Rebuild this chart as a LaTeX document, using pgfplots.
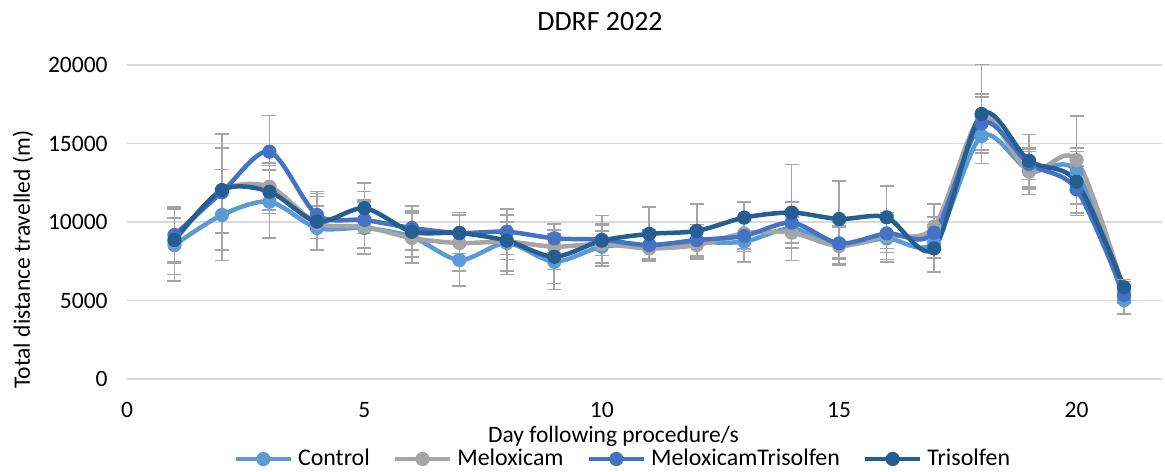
\documentclass[border=0pt]{standalone}
\usepackage{fontspec}
\setmainfont{Carlito}
\usepackage{pgfplots}
\usepackage{pgfplotstable}
\pgfplotsset{compat=1.18}

\definecolor{cControl}{HTML}{5B9BD5}
\definecolor{cMelox}{HTML}{A5A5A5}
\definecolor{cMT}{HTML}{4472C4}
\definecolor{cTris}{HTML}{255E91}
\definecolor{gridgray}{HTML}{D9D9D9}
\definecolor{errgray}{HTML}{A5A5A5}

% Mean total distance (m) and error per treatment group, by day
\pgfplotstableread{
day  C     Cerr  M     Merr  MT    MTerr T     Terr
1    8530  2300  8800  2150  9170  1800  8850  1400
2    10450 2900  12000 2700  11900 3700  12040 2700
3    11290 2300  12250 1500  14480 2300  11930 1400
4    9620  1400  9930  1700  10450 1500  10020 1800
5    9620  1650  9700  1700  10130 1800  10880 1600
6    9060  1650  8980  1600  9620  1400  9380  1600
7    7580  1640  8660  1800  9300  1300  9300  1300
8    8660  1800  8750  2100  9380  1450  8810  1200
9    7470  1760  8430  1450  8960  900   7790  1700
10   8430  1000  8600  1200  8870  1000  8810  1600
11   8530  1000  8320  800   8530  900   9240  1700
12   8700  900   8530  900   8850  1000  9430  1700
13   8750  1280  9280  1000  9110  1000  10280 1000
14   9580  1200  9320  1000  9960  1300  10600 3060
15   8530  1200  8470  1200  8640  1000  10190 2440
16   8960  1500  9110  1500  9270  1200  10300 2000
17   8700  1000  9700  1450  9320  1000  8320  1500
18   15480 1100  16710 1450  16280 1700  16880 3150
19   13300 1200  13210 1450  13700 1000  13900 1680
20   13200 1300  13950 2820  12080 1500  12570 2150
21   5030  900   5600  600   5350  500   5840  500
}\ddrf

\pgfplotsset{
  series/.style={
    color=#1, line width=2.25bp, smooth, tension=0.5,
    mark=*, mark size=3.3bp, mark options={solid, fill=#1, draw=#1, line width=0.5bp},
    error bars/.cd, y dir=both, y explicit,
    error bar style={errgray, line width=0.8bp, smooth=false},
    error mark options={errgray, line width=0.8bp, mark size=3.5bp, rotate=90},
  },
}

\begin{document}
\begin{tikzpicture}
\useasboundingbox (-63.5bp,-46.5bp) rectangle (519bp,189.5bp);
\begin{axis}[
  at={(0,0)}, anchor=south west,
  scale only axis, width=517.5bp, height=157bp,
  xmin=0, xmax=21.8, ymin=0, ymax=20000,
  xtick={0,5,10,15,20}, ytick={0,5000,10000,15000,20000},
  scaled ticks=false,
  axis line style={draw=none},
  major tick length=0pt,
  ymajorgrids, grid style={gridgray, line width=0.9bp},
  clip=false,
  /pgf/number format/assume math mode=true,
  /pgf/number format/fixed,
  /pgf/number format/1000 sep={},
  tick label style={font=\fontsize{11.8}{13}\selectfont, text=black},
  xticklabel style={anchor=center, inner sep=0pt, yshift=-15.5bp},
  yticklabel style={anchor=east, inner sep=0pt, xshift=-9.5bp},
  xlabel={Day following procedure/s},
  xlabel style={font=\fontsize{11.8}{13}\selectfont, at={(axis description cs:0.47,0)}, anchor=center, yshift=-28.5bp},
  ylabel={Total distance travelled (m)},
  ylabel style={font=\fontsize{11.8}{13}\selectfont, at={(axis description cs:0,0.38)}, anchor=center, yshift=52bp},
  legend columns=4,
  legend style={draw=none, fill=none, at={(axis description cs:0.4805,0)}, anchor=center, yshift=-40bp,
    font=\fontsize{12}{13}\selectfont, nodes={inner xsep=2.5bp, inner ysep=0pt},
    /tikz/every even column/.append style={column sep=9bp}},
  legend image code/.code={%
    \draw[mark repeat=2, mark phase=2, smooth=false]
      plot coordinates {(0bp,0bp) (13.75bp,0bp) (27.5bp,0bp)};},
]
\addplot[series=cControl] table[x=day, y=C, y error=Cerr] {\ddrf};
\addlegendentry{Control}
\addplot[series=cMelox] table[x=day, y=M, y error=Merr] {\ddrf};
\addlegendentry{Meloxicam}
\addplot[series=cMT] table[x=day, y=MT, y error=MTerr] {\ddrf};
\addlegendentry{MeloxicamTrisolfen}
\addplot[series=cTris] table[x=day, y=T, y error=Terr] {\ddrf};
\addlegendentry{Trisolfen}
% chart title
\node[font=\fontsize{14}{16}\selectfont, anchor=center, inner sep=0pt]
  at ([yshift=21.5bp]axis description cs:0.457,1) {DDRF 2022};
\end{axis}
\end{tikzpicture}
\end{document}
